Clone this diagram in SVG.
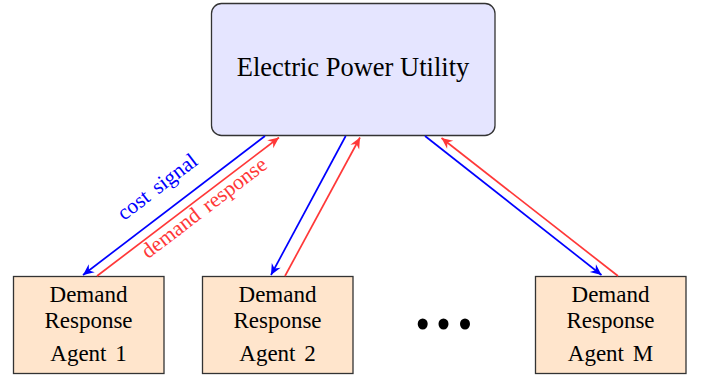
<svg xmlns="http://www.w3.org/2000/svg" width="702" height="381" viewBox="0 0 702 381">
<defs>
<style>
text{font-family:"Liberation Serif","Times New Roman",serif;fill:#000}
.agent rect{fill:#ffe5cc;stroke:#333;stroke-width:1.3}
.agent text{font-size:23px;text-anchor:middle}
.agent text.last{word-spacing:3px}
.blue{stroke:#0000ff;stroke-width:1.7;fill:none;marker-end:url(#ab)}
.red{stroke:#ff3838;stroke-width:1.7;fill:none;marker-end:url(#ar)}
.lbl{font-size:21.5px;text-anchor:middle;word-spacing:3px}
</style>
<marker id="ab" markerUnits="userSpaceOnUse" markerWidth="14" markerHeight="12" viewBox="-12 -6 14 12" refX="0" refY="0" orient="auto"><path d="M0,0 L-11,-5 L-7.5,0 L-11,5 Z" fill="#0000ff"/></marker>
<marker id="ar" markerUnits="userSpaceOnUse" markerWidth="14" markerHeight="12" viewBox="-12 -6 14 12" refX="0" refY="0" orient="auto"><path d="M0,0 L-11,-5 L-7.5,0 L-11,5 Z" fill="#ff3838"/></marker>
</defs>
<rect width="702" height="381" fill="#fff"/>
<g id="utility">
<rect x="211.5" y="3.5" width="283.5" height="132" rx="10" fill="#e5e5ff" stroke="#333" stroke-width="1.3"/>
<text x="353" y="76" font-size="26.5" text-anchor="middle">Electric Power Utility</text>
</g>
<g id="agent1" class="agent">
<rect x="13.5" y="276.5" width="150.5" height="97"/>
<text x="88.5" y="301.5">Demand</text>
<text x="88.5" y="328">Response</text>
<text class="last" x="88.5" y="360.5">Agent 1</text>
</g>
<g id="agent2" class="agent">
<rect x="202.5" y="276.5" width="150.5" height="97"/>
<text x="277.5" y="301.5">Demand</text>
<text x="277.5" y="328">Response</text>
<text class="last" x="277.5" y="360.5">Agent 2</text>
</g>
<g id="agentM" class="agent">
<rect x="535.5" y="276.5" width="150.5" height="97"/>
<text x="610.5" y="301.5">Demand</text>
<text x="610.5" y="328">Response</text>
<text class="last" x="610.5" y="360.5">Agent M</text>
</g>
<g id="dots" fill="#000">
<ellipse cx="422.7" cy="324" rx="5" ry="5.5"/>
<ellipse cx="443.5" cy="324" rx="5" ry="5.5"/>
<ellipse cx="465" cy="324" rx="5" ry="5.5"/>
</g>
<g id="connectors">
<path class="blue" d="M265,136 L83,275"/>
<path class="red" d="M97,276 L279,137.5"/>
<path class="blue" d="M345.7,136 L271,275"/>
<path class="red" d="M285,276 L360,137.5"/>
<path class="blue" d="M425,136 L601.5,275"/>
<path class="red" d="M618,276 L441.5,138"/>
<text class="lbl" x="161.5" y="192.3" style="fill:#0000ff" transform="rotate(-37.4 161.5 192.3)">cost signal</text>
<text class="lbl" x="208.3" y="213.3" style="fill:#ff3838" transform="rotate(-37.4 208.3 213.3)">demand response</text>
</g>
</svg>
